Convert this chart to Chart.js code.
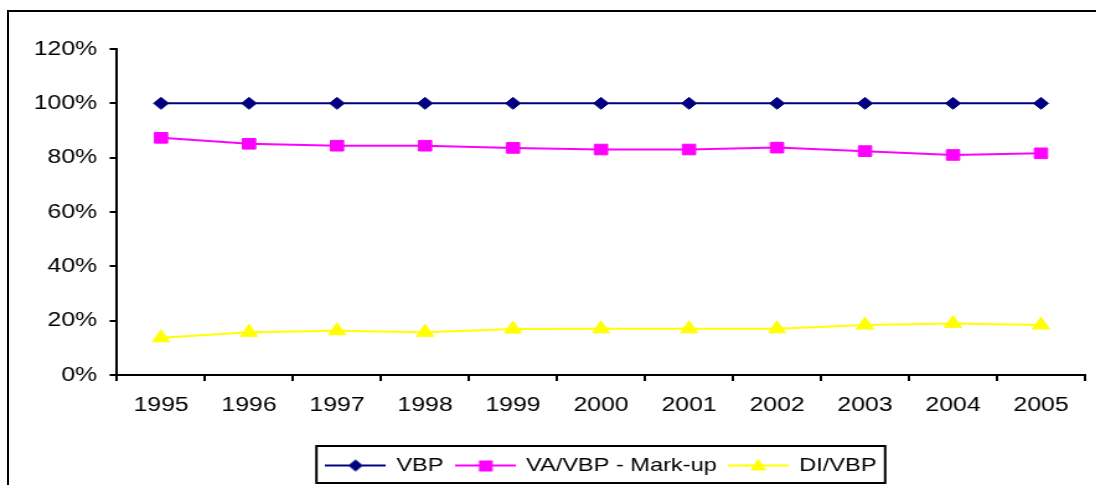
<!DOCTYPE html>
<html>
<head>
<meta charset="utf-8">
<script src="https://cdn.jsdelivr.net/npm/chart.js@4"></script>
<style>
  html, body { margin: 0; padding: 0; background: #fff; overflow: hidden; }
  #wrap { position: relative; width: 1096px; height: 485px; }
  #frame { position: absolute; left: 7px; top: 10px; width: 2000px; height: 1000px;
           border-top: 2px solid #000; border-left: 2px solid #000; }
  #myChart { position: absolute; left: 0; top: 0; transform-origin: 0 0; }
</style>
</head>
<body>
<div id="wrap">
  <canvas id="myChart" width="884" height="485" style="width:884px;height:485px"></canvas>
  <div id="frame"></div>
</div>
<script>
// the original picture is stretched sideways, so draw narrow and widen it
var stretch = 1.24;

var years = ['1995', '1996', '1997', '1998', '1999', '2000', '2001', '2002', '2003', '2004', '2005'];
var vbp = [100, 100, 100, 100, 100, 100, 100, 100, 100, 100, 100];
var vaMarkup = [87.3, 85.1, 84.4, 84.4, 83.6, 83.0, 83.0, 83.7, 82.4, 81.0, 81.6];
var diVbp = [13.7, 15.7, 16.3, 15.7, 16.9, 17.0, 17.0, 17.0, 18.4, 19.0, 18.4];

const ctx = document.getElementById('myChart');
ctx.style.transform = 'scaleX(' + stretch + ')';

var font = { family: '"Liberation Sans", Arial, sans-serif', size: 20 };
var legendFont = { family: '"Liberation Sans", Arial, sans-serif', size: 19 };

// little line + marker pictures for the legend
function legendIcon(color, style) {
  var c = document.createElement('canvas');
  c.width = 49; c.height = 18;
  var g = c.getContext('2d');
  g.strokeStyle = color; g.fillStyle = color; g.lineWidth = 2;
  g.beginPath(); g.moveTo(0, 9); g.lineTo(49, 9); g.stroke();
  g.beginPath();
  if (style == 'diamond') {
    g.moveTo(24.5, 3); g.lineTo(30.5, 9); g.lineTo(24.5, 15); g.lineTo(18.5, 9);
  } else if (style == 'square') {
    g.rect(19.5, 4, 11, 11);
  } else {
    g.moveTo(24.5, 2); g.lineTo(31, 14); g.lineTo(18, 14);
  }
  g.closePath(); g.fill();
  return c;
}
var icons = [legendIcon('#000080', 'diamond'), legendIcon('#FF00FF', 'square'), legendIcon('#FFFF00', 'triangle')];

const legendBox = {
  id: 'legendBox',
  afterLayout(chart) {
    chart.legend.left += 45;
    chart.legend.right += 45;
  },
  afterDraw(chart) {
    var boxes = chart.legend.legendHitBoxes;
    if (!boxes || !boxes.length) return;
    var l = boxes[0].left - 8;
    var last = boxes[boxes.length - 1];
    var r = last.left + last.width + 7;
    var g = chart.ctx;
    g.save();
    g.strokeStyle = '#000';
    g.lineWidth = 2;
    g.strokeRect(l, 446, r - l, 37);
    g.restore();
  }
};

new Chart(ctx, {
  type: 'line',
  data: {
    labels: years,
    datasets: [{
      label: 'VBP',
      data: vbp,
      borderColor: '#000080',
      backgroundColor: '#000080',
      borderWidth: 2,
      pointStyle: 'rectRot',
      pointRadius: 6,
      pointBorderWidth: 1
    }, {
      label: 'VA/VBP - Mark-up',
      data: vaMarkup,
      borderColor: '#FF00FF',
      backgroundColor: '#FF00FF',
      borderWidth: 2,
      pointStyle: 'rect',
      pointRadius: 7.5,
      pointBorderWidth: 1
    }, {
      label: 'DI/VBP',
      data: diVbp,
      borderColor: '#FFFF00',
      backgroundColor: '#FFFF00',
      borderWidth: 2,
      pointStyle: 'triangle',
      pointRadius: 8,
      pointBorderWidth: 1
    }]
  },
  options: {
    responsive: false,
    animation: false,
    layout: { padding: { top: 49, right: 4, left: 0, bottom: 0 } },
    plugins: {
      tooltip: { enabled: false },
      legend: {
        position: 'bottom',
        labels: {
          usePointStyle: true,
          pointStyleWidth: 47,
          color: '#000',
          font: legendFont,
          padding: 10,
          generateLabels: function(chart) {
            var items = Chart.defaults.plugins.legend.labels.generateLabels(chart);
            items.forEach(function(it, i) { it.pointStyle = icons[i]; });
            return items;
          }
        }
      }
    },
    scales: {
      x: {
        offset: true,
        afterFit: function(s) { s.height = 71; },
        grid: { offset: true, drawOnChartArea: false, tickLength: 6, color: '#000', lineWidth: 2 },
        border: { color: '#000', width: 2 },
        ticks: { color: '#000', font: font, padding: 12, maxRotation: 0, autoSkip: false }
      },
      y: {
        min: 0,
        max: 120,
        afterFit: function(s) { s.width = 94.4; },
        grid: { drawOnChartArea: false, tickLength: 6, color: '#000', lineWidth: 2 },
        border: { color: '#000', width: 2 },
        ticks: {
          stepSize: 20,
          color: '#000',
          font: font,
          padding: 10,
          callback: function(v) { return v + '%'; }
        }
      }
    }
  },
  plugins: [legendBox]
});
</script>
</body>
</html>
